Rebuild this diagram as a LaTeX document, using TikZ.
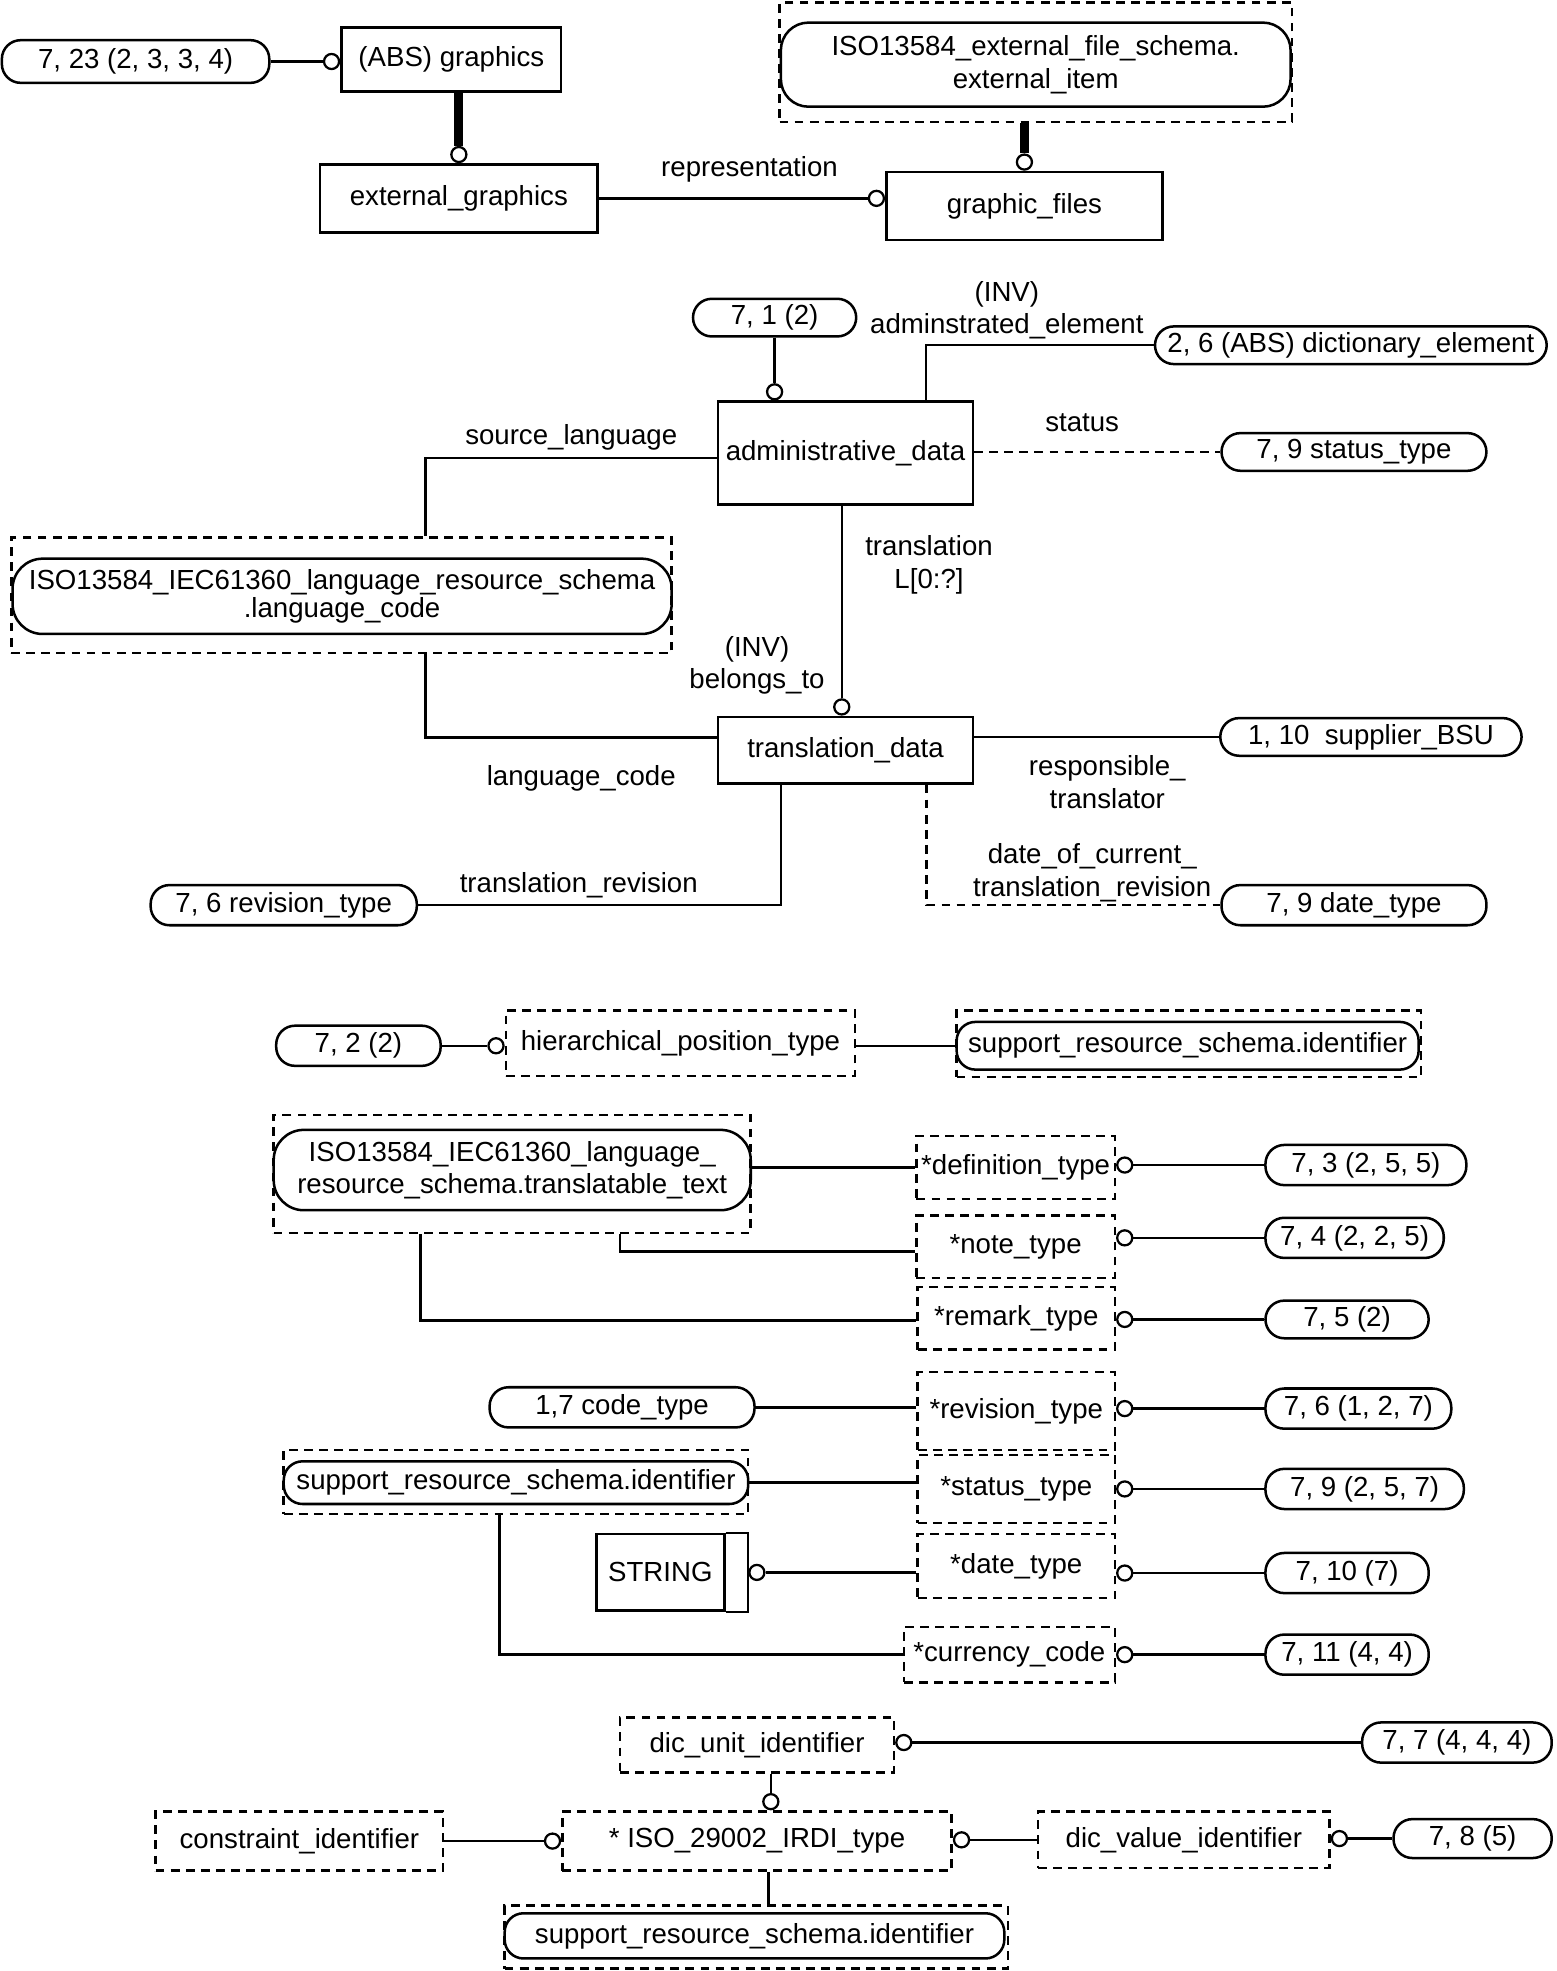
\documentclass[tikz,border=0pt]{standalone}
\usepackage{fontspec}
\setmainfont{Liberation Sans}
\usetikzlibrary{positioning}
\tikzset{
  base/.style={inner sep=0pt, font=\fontsize{22}{26}\selectfont, align=center},
  ent/.style={base, draw, line width=2pt},
  dent/.style={ent, dash pattern=on 7pt off 5pt},
  pill/.style={ent, rounded corners=#1},
  pill/.default=15pt,
  sz/.style 2 args={minimum width=#1, minimum height=#2},
  lbl/.style={base},
  circ/.style={circle, draw, fill=white, line width=1.8pt, minimum size=12pt, inner sep=0pt},
  rel/.style={line width=2pt},
  dline/.style={rel, dash pattern=on 7pt off 5pt},
  sub/.style={line width=7pt},
}

\begin{document}
\begin{tikzpicture}[x=1pt, y=-1pt]
\useasboundingbox (0,0) rectangle (1240,1570);

% graphics
\node[pill, sz={213}{34}] (p723) at (108,49) {7, 23 (2, 3, 3, 4)};
\node[ent, sz={175}{51}] (gra) at (359.5,47.5) {(ABS) graphics};
\node[circ, anchor=east] (cgra) at (gra.west |- p723) {};
\node[ent, sz={221}{54}] (extg) at (365.5,158) {external\_graphics};
\node[circ, anchor=south] (cextg) at (extg.north) {};
\node[dent, sz={408}{95}] (extfD) at (825,49.5) {};
\node[pill=22pt, sz={406}{67}] (extf) at (825,51.5) {ISO13584\_external\_file\_schema.\\external\_item};
\node[ent, sz={220}{54}] (gfil) at (816,164) {graphic\_files};
\node[circ, anchor=south] (cgfil) at (gfil.north) {};
\node[circ, anchor=east] (crep) at (gfil.west |- extg) {};
\node[lbl] (lrep) at (597,135) {representation};

\draw[rel] (p723) -- (cgra);
\draw[sub] (gra.south -| cextg) -- (cextg);
\draw[sub] (extfD.south -| cgfil) -- (cgfil);
\draw[rel] (extg) -- (crep);

% administrative and translation data
\node[pill, sz={130}{30}] (p71) at (617,253) {7, 1 (2)};
\node[ent, sz={203}{82}] (adm) at (673.5,361) {administrative\_data};
\node[circ, anchor=south] (cadm) at (adm.north -| p71) {};
\node[pill, sz={312}{30}] (pdic) at (1076,275) {2, 6 (ABS) dictionary\_element};
\node[pill, sz={211}{30}] (pst) at (1078.5,360) {7, 9 status\_type};
\node[dent, sz={526}{92}] (lcD) at (272,474) {};
\node[pill=24pt, sz={525}{60}] (lc) at (272.5,475) {ISO13584\_IEC61360\_language\_resource\_schema\\[-3pt].language\_code};
\node[ent, sz={203}{53}] (trd) at (673.5,597.5) {translation\_data};
\node[circ, anchor=south] (ctrd) at ([xshift=-3]trd.north) {};
\node[pill, sz={240}{30}] (psup) at (1092,587) {1, 10\ \ supplier\_BSU};
\node[pill, sz={212}{32}] (prev) at (226,721) {7, 6 revision\_type};
\node[pill, sz={211}{32}] (pdat) at (1078.5,721) {7, 9 date\_type};

\node[lbl] (linv) at (802,247) {(INV)\\adminstrated\_element};
\node[lbl] (lst) at (862,337) {status};
\node[lbl] (lsrc) at (455,348) {source\_language};
\node[lbl] (ltrn) at (740,450) {translation\\L[0:?]};
\node[lbl] (lbel) at (603,530) {(INV)\\belongs\_to};
\node[lbl] (llc) at (463,620) {language\_code};
\node[lbl] (lresp) at (882,623) {responsible\_\\translator};
\node[lbl] (lrev) at (461,705) {translation\_revision};
\node[lbl] (ldat) at (870,695) {date\_of\_current\_\\translation\_revision};

\draw[rel] (p71) -- (cadm);
\draw[rel] ([xshift=64]adm.north) |- (pdic.west);
\draw[dline] (adm.east |- pst) -- (pst.west);
\draw[rel] ([yshift=-4]adm.west) -| ([xshift=67]lcD.north);
\draw[rel] (adm.south -| ctrd) -- (ctrd);
\draw[rel] ([xshift=67]lcD.south) |- ([yshift=10]trd.west);
\draw[rel] (trd.east |- psup) -- (psup.west);
\draw[rel] ([xshift=-51.5]trd.south) |- (prev.east);
\draw[dline] ([xshift=64.5]trd.south) |- (pdat.west);

% hierarchical position
\node[pill, sz={131}{32}] (p72) at (285.5,833) {7, 2 (2)};
\node[dent, sz={278}{52}] (hpt) at (542,831) {hierarchical\_position\_type};
\node[circ, anchor=east] (chpt) at (hpt.west |- p72) {};
\node[dent, sz={370}{53}] (sriD1) at (947,831.5) {};
\node[pill, sz={368}{38}] (sri1) at (946,833) {support\_resource\_schema.identifier};
\draw[rel] (p72) -- (chpt);
\draw[rel] (hpt.east |- sri1) -- (sri1.west);

% defined types
\node[dent, sz={380}{94}] (ttD) at (408,935) {};
\node[pill=24pt, sz={380}{64}] (tt) at (408,932) {ISO13584\_IEC61360\_language\_\\resource\_schema.translatable\_text};
\node[dent, sz={158}{50}] (defn) at (809,930) {*definition\_type};
\node[dent, sz={158}{50}] (note) at (809,993) {*note\_type};
\node[dent, sz={157}{50}] (rmk) at (809.5,1050) {*remark\_type};
\node[pill, sz={211}{32}] (pcode) at (495.5,1121) {1,7 code\_type};
\node[dent, sz={157}{62}] (revt) at (809.5,1124) {*revision\_type};
\node[dent, sz={370}{51}] (sriD2) at (411,1180.5) {};
\node[pill, sz={370}{34}] (sri2) at (411,1181) {support\_resource\_schema.identifier};
\node[dent, sz={157}{54}] (stat) at (809.5,1186) {*status\_type};
\node[ent, sz={102}{61}] (str) at (526,1252.5) {STRING};
\node[circ, anchor=west] (cstr) at ([xshift=18]str.east) {};
\node[dent, sz={157}{51}] (date) at (809.5,1247.5) {*date\_type};
\node[dent, sz={168}{44}] (curr) at (804,1318) {*currency\_code};

\node[pill, sz={160}{32}] (p73) at (1088,928) {7, 3 (2, 5, 5)};
\node[pill, sz={142}{32}] (p74) at (1079,986) {7, 4 (2, 2, 5)};
\node[pill, sz={130}{30}] (p75) at (1073,1051) {7, 5 (2)};
\node[pill, sz={148}{32}] (p76) at (1082,1122) {7, 6 (1, 2, 7)};
\node[pill, sz={158}{32}] (p79) at (1087,1186) {7, 9 (2, 5, 7)};
\node[pill, sz={130}{32}] (p710) at (1073,1253) {7, 10 (7)};
\node[pill, sz={130}{32}] (p711) at (1073,1318) {7, 11 (4, 4)};

\draw[rel] (str.north east) -- ++(18,0) |- (str.south east);
\draw[rel] (tt.east |- defn) -- (defn.west);
\draw[rel] ([xshift=86]ttD.south) |- ([yshift=-4]note.west);
\draw[rel] ([xshift=-73]ttD.south) |- ([yshift=-2]rmk.west);
\draw[rel] (pcode.east) -- (revt.west |- pcode);
\draw[rel] (sri2.east) -- (stat.west |- sri2);
\draw[rel] (cstr) -- (date.west |- cstr);
\draw[rel] ([xshift=-13]sriD2.south) |- (curr.west);

% each type to its page reference
\foreach \t/\p in {defn/p73, note/p74, rmk/p75, revt/p76, stat/p79, date/p710, curr/p711}{
  \node[circ, anchor=west] (c\t) at (\t.east |- \p) {};
  \draw[rel] (c\t) -- (\p);
}

% IRDI
\node[dent, sz={218}{44}] (dui) at (603,1390) {dic\_unit\_identifier};
\node[pill, sz={151}{32}] (p77) at (1160.5,1388) {7, 7 (4, 4, 4)};
\node[circ, anchor=west] (cdui) at (dui.east |- p77) {};
\node[dent, sz={310}{47}] (irdi) at (603,1466.5) {* ISO\_29002\_IRDI\_type};
\node[circ, anchor=south] (cirdi) at ([xshift=11]irdi.north) {};
\node[dent, sz={229}{47}] (con) at (238.5,1466.5) {constraint\_identifier};
\node[circ, anchor=east] (cirdiw) at (irdi.west) {};
\node[dent, sz={232}{45}] (dvi) at (943,1465.5) {dic\_value\_identifier};
\node[circ, anchor=west] (cirdie) at (irdi.east |- dvi) {};
\node[pill, sz={126}{31}] (p78) at (1173,1464.5) {7, 8 (5)};
\node[circ, anchor=west] (cdvi) at (dvi.east |- p78) {};
\node[dent, sz={401}{50}] (sriD3) at (602.5,1543) {};
\node[pill, sz={398}{36}] (sri3) at (601,1542) {support\_resource\_schema.identifier};

\draw[rel] (cdui) -- (p77);
\draw[rel] (dui.south -| cirdi) -- (cirdi);
\draw[rel] (con) -- (cirdiw);
\draw[rel] (cirdie) -- (dvi);
\draw[rel] (cdvi) -- (p78);
\draw[rel] ([xshift=9]irdi.south) -- ([xshift=9.5]sriD3.north);

\end{tikzpicture}
\end{document}
